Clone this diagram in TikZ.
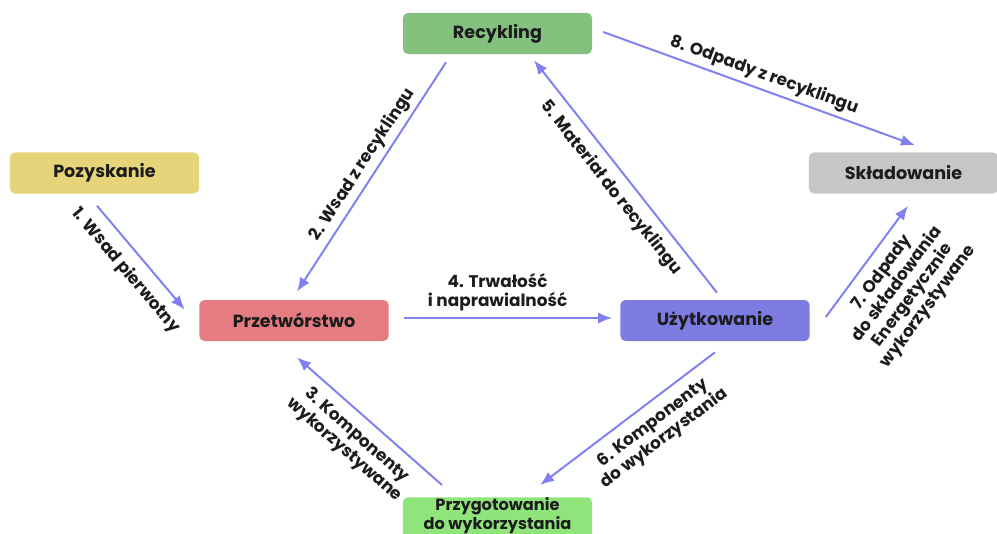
\documentclass[tikz,border=0pt]{standalone}
\usepackage{fontspec}
\setmainfont{Poppins}
\usepackage{xcolor}
\usetikzlibrary{arrows.meta,calc}
\definecolor{ink}{RGB}{28,28,28}
\definecolor{flowblue}{RGB}{128,128,242}
\definecolor{pozyellow}{RGB}{230,212,122}
\definecolor{recgreen}{RGB}{132,192,126}
\definecolor{sklgray}{RGB}{198,198,198}
\definecolor{przred}{RGB}{229,124,130}
\definecolor{uzyblue}{RGB}{126,123,226}
\definecolor{prggreen}{RGB}{144,228,124}

\begin{document}
\begin{tikzpicture}[x=0.025cm,y=-0.025cm,
    box/.style={rounded corners=3.5pt,minimum width=4.725cm,minimum height=1.025cm,
        inner sep=2pt,align=center,text=ink,font=\fontsize{12.5}{13}\selectfont\bfseries},
    flow/.style={draw=flowblue,line width=1.4pt,-{Latex[length=10pt,width=8pt]}},
    lbl/.style={inner sep=1pt,align=center,text=ink,font=\fontsize{12}{13.6}\selectfont\bfseries}]
    \useasboundingbox (0,0) rectangle (997,533);

    % Stages of the cycle
    \node[box,fill=recgreen] (rec) at (497.5,33.5) {Recykling};
    \node[box,fill=pozyellow] (poz) at (104.5,173) {Pozyskanie};
    \node[box,fill=sklgray] (skl) at (903.5,173) {Składowanie};
    \node[box,fill=przred] (prz) at (294,320.5) {Przetwórstwo};
    \node[box,fill=uzyblue] (uzy) at (715,320.5) {Użytkowanie};
    \node[box,fill=prggreen,anchor=north,minimum height=0pt,inner ysep=0.5pt,text depth=8pt,
        font=\fontsize{11.5}{11.8}\selectfont\bfseries] (prg) at (497.5,497)
        {Przygotowanie\\do wykorzystania};

    % Flows
    \draw[flow] ($(poz.south)+(-7.5,12)$) -- ($(prz.north west)+(-14.5,10)$)
        node[lbl,midway,sloped,below=6pt] {1. Wsad pierwotny};
    \draw[flow] ($(rec.south)+(-51.5,8)$) -- ($(prz.north)+(3,-8)$)
        node[lbl,pos=0.48,sloped,above=2pt] {2. Wsad z recyklingu};
    \draw[flow] ($(prg.north)+(-55.5,-12)$) -- ($(prz.south)+(3,16)$)
        node[lbl,midway,sloped,below=6pt] {3. Komponenty\\wykorzystywane};
    \draw[flow] ($(prz.east)+(15,-2.5)$) -- ($(uzy.west)+(-8,-2.5)$)
        node[lbl,pos=0.45,above=3pt] {4. Trwałość\\i naprawialność};
    \draw[flow] ($(uzy.north)+(2,-7)$) -- ($(rec.south)+(36.5,6)$)
        node[lbl,midway,sloped,below=5pt] {5. Materiał do recyklingu};
    \draw[flow] ($(uzy.south)+(0,11)$) -- ($(prg.north)+(42.5,-12)$)
        node[lbl,pos=0.42,sloped,below=6pt] {6. Komponenty\\do wykorzystania};
    \draw[flow] ($(uzy.east)+(16,-3.5)$) -- ($(skl.south)+(4.5,12)$)
        node[lbl,midway,sloped,below=6pt] {7. Odpady\\do składowania\\Energetycznie\\wykorzystywane};
    \draw[flow] ($(rec.east)+(11,-1.5)$) -- ($(skl.north)+(11.5,-7)$)
        node[lbl,midway,sloped,above=2pt] {8. Odpady z recyklingu};
\end{tikzpicture}
\end{document}
